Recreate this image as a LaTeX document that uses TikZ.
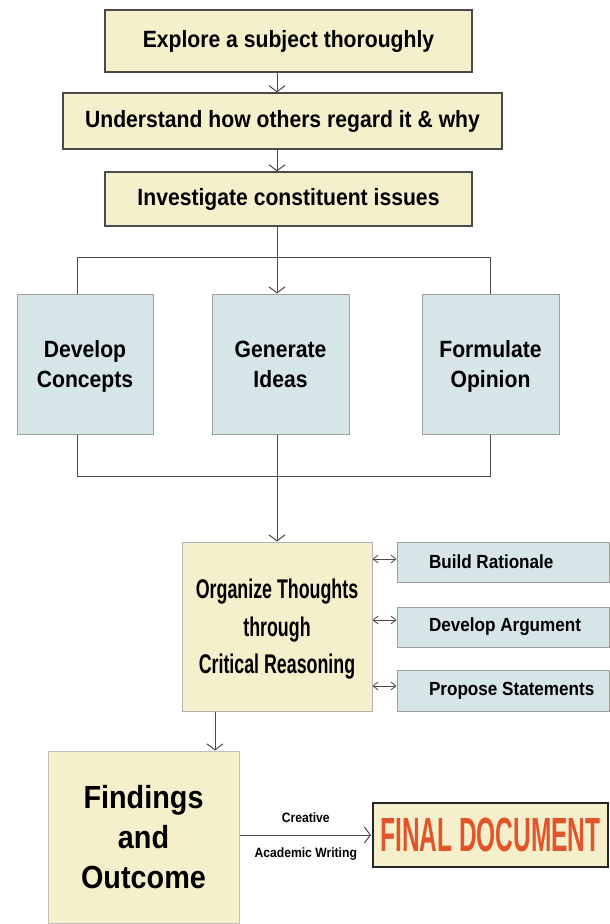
\documentclass[tikz,border=0pt]{standalone}
\usepackage{fontspec}
\setmainfont{Liberation Sans}[FakeStretch=0.9]
\newfontfamily\narrowfont{Liberation Sans}[FakeStretch=0.66]
\newfontfamily\finalfont{Liberation Sans}[FakeStretch=0.51]
\usetikzlibrary{arrows.meta}
\definecolor{boxyellow}{HTML}{F5EFCC}
\definecolor{boxblue}{HTML}{D5E5E8}
\definecolor{linegray}{HTML}{4A4A4A}
\definecolor{finalred}{HTML}{E2552A}
\tikzset{>={Straight Barb[length=6pt,width=16pt]}}
\tikzset{
    ybox/.style={draw=linegray,fill=boxyellow,line width=1.2pt,inner sep=0pt,
        align=center,font=\bfseries\fontsize{23.5}{28}\selectfont},
    bbox/.style={draw=gray!75,fill=boxblue,line width=1pt,inner sep=0pt,
        align=center,font=\bfseries\fontsize{23.5}{30}\selectfont},
    sidebox/.style={bbox,inner xsep=32pt,minimum height=40,
        font=\bfseries\fontsize{19}{22}\selectfont},
    link/.style={draw=linegray,line width=1pt},
    twoway/.style={link,line width=0.8pt,
        {Straight Barb[length=5pt,width=8pt]}-{Straight Barb[length=5pt,width=8pt]}},
}
\newcommand\sidetext[1]{\makebox[148pt][l]{#1}}

\begin{document}
\begin{tikzpicture}[x=1pt,y=-1pt]
        \useasboundingbox (0,0) rectangle (610,924);
        \coordinate (spine) at (277,0);
        \coordinate (leftline) at (77,0);
        \coordinate (rightline) at (490,0);

        % top chain
        \node[ybox,minimum width=367,minimum height=62] (explore) at (288.5,41)
            {Explore a subject thoroughly};
        \node[ybox,minimum width=439,minimum height=56] (understand) at (282.5,121)
            {Understand how others regard it \& why};
        \node[ybox,minimum width=367,minimum height=54] (investigate) at (288.5,199)
            {Investigate constituent issues};

        \draw[link,->] (explore.south -| spine) -- (understand.north -| spine);
        \draw[link,->] (understand.south -| spine) -- (investigate.north -| spine);

        % three branches
        \node[bbox,minimum width=136,minimum height=140,text depth=-1pt] (concepts) at (85,364)
            {Develop\\Concepts};
        \node[bbox,minimum width=137,minimum height=140,text depth=-1pt] (ideas) at (280.5,364)
            {Generate\\Ideas};
        \node[bbox,minimum width=137,minimum height=140,text depth=-1pt] (opinion) at (490.5,364)
            {Formulate\\Opinion};

        \coordinate (split) at (277,257);
        \coordinate (merge) at (277,476);
        \draw[link] (investigate.south -| spine) -- (split);
        \draw[link] (split -| leftline) -- (split -| rightline);
        \draw[link] (split -| leftline) -- (concepts.north -| leftline);
        \draw[link] (split -| rightline) -- (opinion.north -| rightline);
        \draw[link,->] (split) -- (ideas.north -| spine);
        \draw[link] (concepts.south -| leftline) -- (merge -| leftline)
            -- (merge -| rightline) -- (opinion.south -| rightline);
        \draw[link] (ideas.south -| spine) -- (merge);

        % reasoning
        \node[ybox,draw=gray!60,line width=1pt,minimum width=190,minimum height=169,text depth=-11pt,
            font=\narrowfont\bfseries\fontsize{27}{37.5}\selectfont] (organize) at (277,626.5)
            {Organize Thoughts\\through\\Critical Reasoning};
        \draw[link,->] (merge) -- (organize.north -| spine);

        \node[sidebox] (rationale) at (503,562) {\sidetext{Build Rationale}};
        \node[sidebox] (argument) at (503,627) {\sidetext{Develop Argument}};
        \node[sidebox,minimum height=41] (statements) at (503,690.5) {\sidetext{Propose Statements}};

        \draw[twoway] (organize.east |- 0,559) -- (rationale.west |- 0,559);
        \draw[twoway] (organize.east |- 0,620) -- (argument.west |- 0,620);
        \draw[twoway] (organize.east |- 0,686) -- (statements.west |- 0,686);

        % outcome
        \coordinate (down) at (215,0);
        \node[ybox,draw=gray!50,line width=1pt,minimum width=191,minimum height=172,
            font=\bfseries\fontsize{32}{40}\selectfont] (findings) at (143.5,837)
            {Findings\\and\\Outcome};
        \draw[link,->] (organize.south -| down) -- (findings.north -| down);

        \node[ybox,draw=black!85,line width=2pt,minimum width=235,minimum height=64,
            text=finalred,font=\finalfont\bfseries\fontsize{48}{50}\selectfont] (final) at (490.5,835)
            {FINAL DOCUMENT};
        \draw[link,->,shorten >=1pt] (findings.east |- final.west) -- (final.west)
            node[midway,above=9pt,font=\bfseries\fontsize{13.5}{16}\selectfont] (creative) {Creative}
            node[midway,below=9pt,font=\bfseries\fontsize{13.5}{16}\selectfont] (academic) {Academic Writing};
\end{tikzpicture}
\end{document}
